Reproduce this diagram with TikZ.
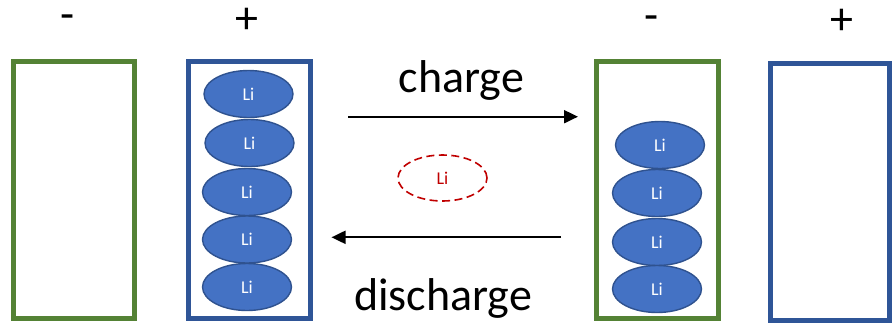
\documentclass[tikz,border=0pt]{standalone}
\usepackage{fontspec}
\setmainfont{Carlito}
\usetikzlibrary{shapes.geometric,arrows.meta}
\definecolor{elgreen}{HTML}{548235}
\definecolor{elblue}{HTML}{2F5597}
\definecolor{lifill}{HTML}{4472C4}
\definecolor{liedge}{HTML}{2F528F}
\definecolor{lired}{HTML}{C00000}
\tikzset{
  electrode/.style={line width=5pt, fill=white},
  ion/.style={ellipse, draw=liedge, line width=1.4pt, fill=lifill, text=white,
    minimum width=89pt, minimum height=47pt, inner sep=0pt, font=\fontsize{18}{18}\selectfont},
  freeion/.style={ellipse, draw=lired, dash pattern=on 8pt off 4.5pt, line width=1.6pt, text=lired,
    minimum width=89pt, minimum height=46pt, inner sep=0pt, font=\fontsize{18}{18}\selectfont},
  sign/.style={font=\fontsize{46}{46}\selectfont, inner sep=0pt},
  label/.style={font=\fontsize{46}{46}\selectfont, inner sep=0pt},
  flow/.style={line width=2pt, -{Triangle[length=14pt, width=13pt]}}
}
\begin{document}
\begin{tikzpicture}[x=1pt,y=-1pt]
\useasboundingbox (0,0) rectangle (892,325);
% electrodes
\draw[electrode, draw=elgreen] (13.5,61.5) rectangle (134.5,318.5);
\draw[electrode, draw=elblue] (188,61.5) rectangle (310,318.5);
\draw[electrode, draw=elgreen] (596,61.5) rectangle (718,318.5);
\draw[electrode, draw=elblue] (770.5,63.5) rectangle (889,320);
% signs
\node[sign] (s1) at (68,22) {-};
\node[sign] (s2) at (247,21) {+};
\node[sign] (s3) at (652,23) {-};
\node[sign] (s4) at (842,22) {+};
% ions in left positive electrode
\node[ion] (a1) at (248.5,94) {Li};
\node[ion] (a2) at (249.5,143) {Li};
\node[ion] (a3) at (247,192) {Li};
\node[ion] (a4) at (247,239.5) {Li};
\node[ion] (a5) at (247,287) {Li};
% ions in right negative electrode
\node[ion] (b1) at (660,145) {Li};
\node[ion] (b2) at (657,193) {Li};
\node[ion] (b3) at (657,242) {Li};
\node[ion] (b4) at (657,289) {Li};
% free ion
\node[freeion] (f) at (442.5,178) {Li};
% arrows
\coordinate (c1) at (348,116.7);
\coordinate (c2) at (578,116.7);
\coordinate (d1) at (561,237.3);
\coordinate (d2) at (331.5,237.3);
\draw[flow] (c1) -- (c2);
\draw[flow] (d1) -- (d2);
\node[label] (lc) at (461.5,80) {charge};
\node[label] (ld) at (443,298) {discharge};
\end{tikzpicture}
\end{document}
